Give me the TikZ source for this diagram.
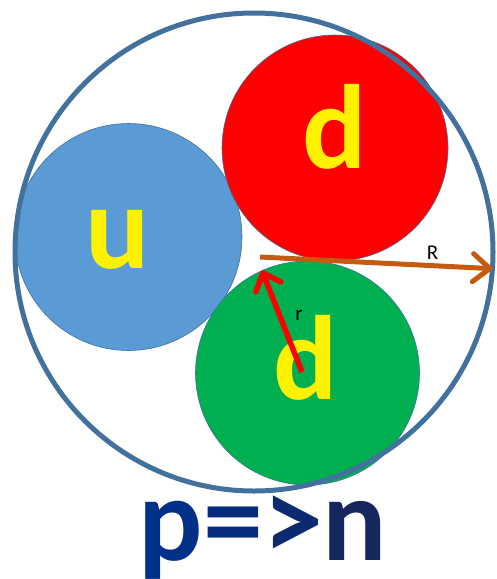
\documentclass[tikz,border=0pt]{standalone}
\usepackage{fontspec}
\setmainfont{Carlito}
\usetikzlibrary{arrows.meta,backgrounds}
\definecolor{ringblue}{RGB}{65,113,156}
\definecolor{ublue}{RGB}{91,155,213}
\definecolor{dred}{RGB}{255,0,0}
\definecolor{dgreen}{RGB}{0,176,80}
\definecolor{rbrown}{RGB}{197,90,17}
\definecolor{pnA}{RGB}{0,48,135}
\definecolor{pnB}{RGB}{6,45,125}
\definecolor{pnC}{RGB}{12,42,112}
\definecolor{pnD}{RGB}{22,38,95}
\tikzset{
  quark/.style={circle, inner sep=0pt, minimum size=226pt, draw=ringblue, line width=0.6pt},
  flavour/.style={anchor=base, inner sep=0pt, text=yellow,
    font=\fontsize{120}{120}\selectfont\bfseries},
  dimlbl/.style={anchor=base, inner sep=0pt, font=\fontsize{21}{21}\selectfont},
  bigR/.style={-{Straight Barb[length=17pt, width=28pt, round]}, line width=5pt, draw=rbrown},
  smallr/.style={-{Straight Barb[length=15pt, width=27pt, round]}, line width=5.5pt, draw=dred},
}
\begin{document}
\begin{tikzpicture}[x=1pt, y=-1pt]
  \useasboundingbox (0,0) rectangle (496,579);
  % nucleon
  \node[circle, inner sep=0pt, outer sep=0pt, minimum size=478pt, draw=ringblue,
    line width=5pt] (ring) at (254,252) {};
  % the three quarks
  \begin{scope}[on background layer]
    \node[quark, fill=ublue, minimum size=227pt] (qu) at (128.5,237) {};
    \node[quark, fill=dred] (qdr) at (335,148) {};
    \node[quark, fill=dgreen, minimum size=224pt] (qdg) at (307.5,373) {};
  \end{scope}
  \node[flavour] (lu) at (117.5,268) {u};
  \node[flavour] (ldr) at (334.5,168) {d};
  \node[flavour] (ldg) at (306,399) {d};
  % radii
  \coordinate (rstart) at (260,257);
  \coordinate (gcore) at (302,372);
  \draw[bigR] (rstart) -- (ring.-4.7);
  \draw[smallr] (gcore) -- (qdg.114);
  \node[dimlbl] (lR) at (432.5,259) {R};
  \node[dimlbl] (lr) at (299,320) {r};
  \node[anchor=base, inner sep=0pt, font=\fontsize{120}{120}\selectfont\bfseries] (pn)
    at (263,560) {\textcolor{pnA}{p}\textcolor{pnB}{=}\textcolor{pnC}{>}\textcolor{pnD}{n}};
\end{tikzpicture}
\end{document}
